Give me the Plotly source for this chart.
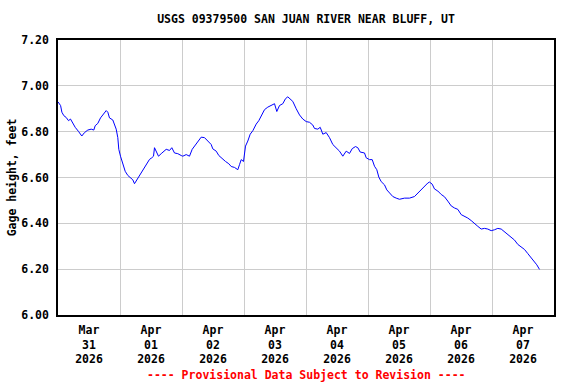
import pandas as pd
import plotly.graph_objects as go

# Hours since 2026-03-31 00:00 (local) and gage height readings, feet
hours = [0.0, 1.0, 1.5, 2.25, 3.17, 4.06, 4.84, 5.73, 6.66, 7.94, 9.21, 10.26, 11.54, 12.85,
         13.86, 14.40, 15.41, 16.45, 17.34, 18.0, 18.66, 19.28, 19.94, 21.21, 21.87, 22.53,
         23.15, 23.54, 24.19, 25.08, 26.01, 27.02, 28.06, 28.95, 29.61, 30.27, 31.55, 32.44,
         33.48, 34.53, 35.42, 36.31, 36.97, 37.35, 38.01, 38.90, 39.95, 40.95, 41.88, 43.16,
         44.05, 45.10, 46.37, 47.69, 48.31, 49.63, 50.90, 51.95, 52.84, 54.12, 55.43, 56.71,
         57.99, 59.30, 59.92, 61.24, 62.25, 63.56, 64.84, 66.12, 67.05, 68.32, 69.60, 70.26,
         70.92, 71.81, 72.58, 73.47, 74.40, 75.41, 76.72, 77.73, 79.05, 79.94, 81.21, 82.53,
         83.81, 84.70, 85.74, 87.02, 88.07, 88.96, 89.89, 90.89, 92.21, 93.49, 94.77, 96.08,
         97.36, 98.63, 99.29, 100.57, 101.50, 102.51, 103.82, 105.10, 106.38, 107.69, 108.97,
         110.25, 111.56, 112.84, 113.89, 115.16, 116.05, 116.98, 118.65, 119.30, 120.58,
         121.63, 122.52, 123.41, 124.18, 125.11, 126.39, 127.28, 128.32, 129.60, 130.92,
         132.19, 134.13, 136.06, 138.0, 139.28, 140.59, 141.87, 143.15, 143.81, 144.85,
         145.74, 147.02, 148.34, 149.61, 150.89, 152.21, 153.48, 154.76, 156.08, 157.35,
         158.63, 159.95, 161.23, 162.50, 163.82, 165.10, 166.37, 167.69, 168.97, 170.25,
         171.56, 172.84, 174.12, 175.43, 176.71, 177.99, 179.30, 180.58, 181.86, 183.17,
         184.45, 185.34, 186.39]
gage_ft = [6.93, 6.914, 6.885, 6.870, 6.862, 6.848, 6.855, 6.836, 6.819, 6.801, 6.781, 6.796,
           6.807, 6.811, 6.807, 6.826, 6.836, 6.860, 6.874, 6.885, 6.892, 6.885, 6.860, 6.851,
           6.833, 6.811, 6.774, 6.723, 6.693, 6.657, 6.627, 6.609, 6.600, 6.590, 6.573, 6.585,
           6.612, 6.630, 6.644, 6.664, 6.679, 6.686, 6.693, 6.730, 6.715, 6.693, 6.704, 6.715,
           6.723, 6.718, 6.730, 6.707, 6.704, 6.696, 6.693, 6.700, 6.693, 6.723, 6.737, 6.759,
           6.776, 6.774, 6.759, 6.744, 6.725, 6.715, 6.696, 6.681, 6.670, 6.660, 6.648, 6.644,
           6.634, 6.656, 6.678, 6.670, 6.737, 6.759, 6.789, 6.804, 6.833, 6.848, 6.877, 6.896,
           6.907, 6.914, 6.922, 6.888, 6.914, 6.922, 6.944, 6.952, 6.941, 6.932, 6.900, 6.873,
           6.855, 6.844, 6.841, 6.829, 6.814, 6.811, 6.819, 6.789, 6.796, 6.774, 6.744, 6.730,
           6.715, 6.693, 6.715, 6.705, 6.726, 6.735, 6.730, 6.711, 6.707, 6.686, 6.678, 6.678,
           6.649, 6.634, 6.602, 6.582, 6.568, 6.546, 6.534, 6.517, 6.510, 6.505, 6.510, 6.510,
           6.517, 6.532, 6.546, 6.561, 6.576, 6.580, 6.571, 6.550, 6.541, 6.526, 6.516, 6.497,
           6.476, 6.467, 6.461, 6.438, 6.432, 6.423, 6.412, 6.398, 6.387, 6.375, 6.378, 6.375,
           6.368, 6.372, 6.378, 6.375, 6.363, 6.348, 6.338, 6.327, 6.308, 6.298, 6.286, 6.268,
           6.249, 6.234, 6.219, 6.199]

start = "2026-03-31 00:00"
day_labels = ["Mar<br>31<br>2026", "Apr<br>01<br>2026", "Apr<br>02<br>2026", "Apr<br>03<br>2026",
              "Apr<br>04<br>2026", "Apr<br>05<br>2026", "Apr<br>06<br>2026", "Apr<br>07<br>2026"]

t0 = pd.Timestamp(start)
times = [t0 + pd.Timedelta(hours=h) for h in hours]
noons = [t0 + pd.Timedelta(hours=12 + 24 * i) for i in range(len(day_labels))]

FONT = "DejaVu Sans Mono"
W, H = 576, 384
TXT = dict(family=FONT, size=11.5, color="black", weight="bold")

fig = go.Figure(go.Scatter(x=times, y=gage_ft, mode="lines",
                           line=dict(color="#0000ff", width=1), hoverinfo="skip"))

fig.update_layout(
    template="none",
    width=W, height=H,
    margin=dict(l=58, r=22, t=40, b=69, pad=0),
    paper_bgcolor="white", plot_bgcolor="white",
    showlegend=False,
    font=TXT,
    title=dict(text="USGS 09379500 SAN JUAN RIVER NEAR BLUFF, UT",
               x=(58 + 554) / 2 / W, xanchor="center", y=1 - 19 / H, yanchor="middle",
               font=TXT),
    xaxis=dict(type="date", automargin=False,
               range=[t0, t0 + pd.Timedelta(days=8)],
               tickmode="array", tickvals=noons, ticktext=day_labels,
               ticks="", showgrid=False, zeroline=False, ticklabelstandoff=3,
               showline=True, linecolor="black", linewidth=1.5, mirror=True,
               minor=dict(tick0=start, dtick=86400000, showgrid=True,
                          gridcolor="#cccccc", gridwidth=1, ticks=""),
               tickfont=TXT),
    yaxis=dict(range=[6.0, 7.2], tick0=6.0, dtick=0.2, tickformat=".2f", automargin=False,
               ticks="", showgrid=True, gridcolor="#cccccc", gridwidth=1, zeroline=False,
               showline=True, linecolor="black", linewidth=1.5, mirror=True,
               ticklabelstandoff=5,
               title=dict(text="Gage height, feet", standoff=2, font=TXT),
               tickfont=TXT),
    annotations=[dict(text="---- Provisional Data Subject to Revision ----",
                      xref="paper", yref="paper", x=0.5, y=-(375 - 315) / 275,
                      xanchor="center", yanchor="middle", showarrow=False,
                      font=dict(family=FONT, size=11.5, color="#ff0000", weight="bold"))],
)

fig.write_html("out.html", config={"displayModeBar": False},
               post_script="document.body.style.margin='0';")
